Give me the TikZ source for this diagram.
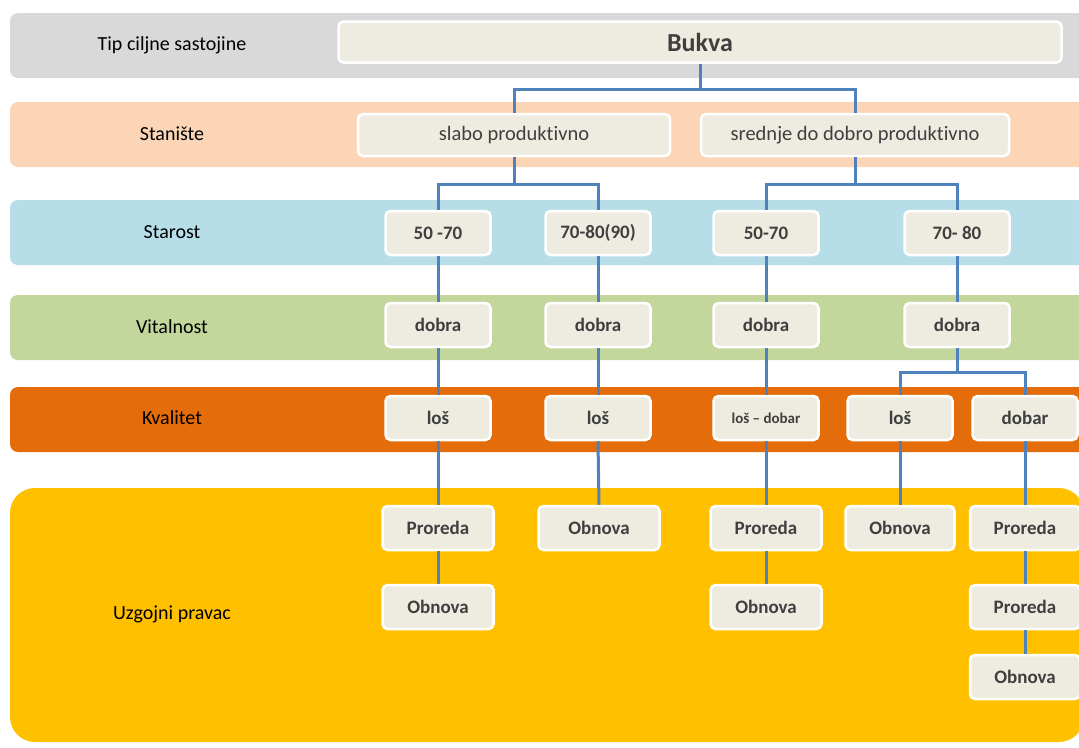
\documentclass[tikz,border=0pt]{standalone}
\usepackage{fontspec}
\setmainfont{Carlito}[Ligatures=NoCommon]
\definecolor{boxfill}{HTML}{EEECE1}
\definecolor{linkblue}{HTML}{4F81BD}
\definecolor{txtgray}{HTML}{3F3F3F}
\definecolor{bandgray}{HTML}{D9D9D9}
\definecolor{bandpeach}{HTML}{FBD5B5}
\definecolor{bandblue}{HTML}{B7DDE8}
\definecolor{bandgreen}{HTML}{C3D69B}
\definecolor{bandorange}{HTML}{E46C0A}
\definecolor{bandyellow}{HTML}{FFC000}
\tikzset{
  band/.style={rounded corners=8pt},
  rowlabel/.style={text=black, font=\fontsize{20}{24}\selectfont},
  box/.style={draw=white, line width=2.5pt, fill=boxfill, rounded corners=5pt,
    minimum width=105pt, minimum height=44pt, inner sep=0pt, text=txtgray,
    font=\bfseries\fontsize{19}{22}\selectfont},
  conn/.style={draw=linkblue, line width=3pt},
}

\begin{document}
\begin{tikzpicture}[x=1pt,y=-1pt]
\clip (0,0) rectangle (1079,747);
\fill[white] (0,0) rectangle (1079,747);
% bands
\foreach \y/\c in {13/bandgray,102/bandpeach,200/bandblue,295/bandgreen,387/bandorange}{
    \fill[\c,band] (10,\y) rectangle (1100,\y+65);
}
\fill[bandyellow,rounded corners=25pt] (10,488) rectangle (1084,742);
% row labels
\node[rowlabel] (tip) at (172,45) {Tip ciljne sastojine};
\node[rowlabel] (staniste) at (172,134) {Stanište};
\node[rowlabel] (starost) at (172,232) {Starost};
\node[rowlabel] (vitalnost) at (172,327) {Vitalnost};
\node[rowlabel] (kvalitet) at (172,418) {Kvalitet};
\node[rowlabel] (uzgoj) at (172,614) {Uzgojni pravac};
% boxes
\node[box,minimum width=723pt,minimum height=41pt,font=\bfseries\fontsize{26}{30}\selectfont] (bukva) at (700,42) {Bukva};
\node[box,minimum width=312pt,minimum height=42pt,font=\fontsize{20.5}{24}\selectfont] (slabo) at (514,135) {slabo produktivno};
\node[box,minimum width=308pt,minimum height=42pt,font=\fontsize{20.5}{24}\selectfont] (srednje) at (855,135) {srednje do dobro produktivno};
\foreach \n/\x/\t in {s1/438/50 -70,s2/598/70-80(90),s3/766/50-70,s4/957/70- 80}{
    \node[box] (\n) at (\x,233) {\t};
}
\foreach \n/\x in {v1/438,v2/598,v3/766,v4/957}{
    \node[box] (\n) at (\x,325) {dobra};
}
\foreach \n/\x/\t in {k1/438/loš,k2/598/loš,k4/900/loš,k5/1025/dobar}{
    \node[box] (\n) at (\x,418) {\t};
}
\node[box,font=\bfseries\fontsize{15}{18}\selectfont] (k3) at (766,418) {loš – dobar};
\foreach \n/\x/\w/\t in {u1/438/111/Proreda,u2/599/121/Obnova,u3/766/111/Proreda,u4/900/109/Obnova,u5/1025/110/Proreda}{
    \node[box,minimum width=\w pt] (\n) at (\x,528) {\t};
}
\node[box,minimum width=111pt] (w1) at (438,607) {Obnova};
\node[box,minimum width=111pt] (w3) at (766,607) {Obnova};
\node[box,minimum width=110pt] (w5) at (1025,607) {Proreda};
\node[box,minimum width=110pt] (z5) at (1025,677) {Obnova};
% connectors
\draw[conn] (bukva.south) -- ++(0,26) -| (slabo.north);
\draw[conn] (bukva.south) -- ++(0,26) -| (srednje.north);
\draw[conn] (slabo.south) -- ++(0,27) -| (s1.north);
\draw[conn] (slabo.south) -- ++(0,27) -| (s2.north);
\draw[conn] (srednje.south) -- ++(0,27) -| (s3.north);
\draw[conn] (srednje.south) -- ++(0,27) -| (s4.north);
\draw[conn] (v4.south) -- ++(0,24) -| (k4.north);
\draw[conn] (v4.south) -- ++(0,24) -| (k5.north);
\foreach \a/\b in {s1/v1,v1/k1,k1/u1,u1/w1,s2/v2,v2/k2,k2/u2,s3/v3,v3/k3,k3/u3,u3/w3,s4/v4,k4/u4,k5/u5,u5/w5,w5/z5}{
    \draw[conn] (\a.south) -- (\b.north);
}
\end{tikzpicture}
\end{document}
